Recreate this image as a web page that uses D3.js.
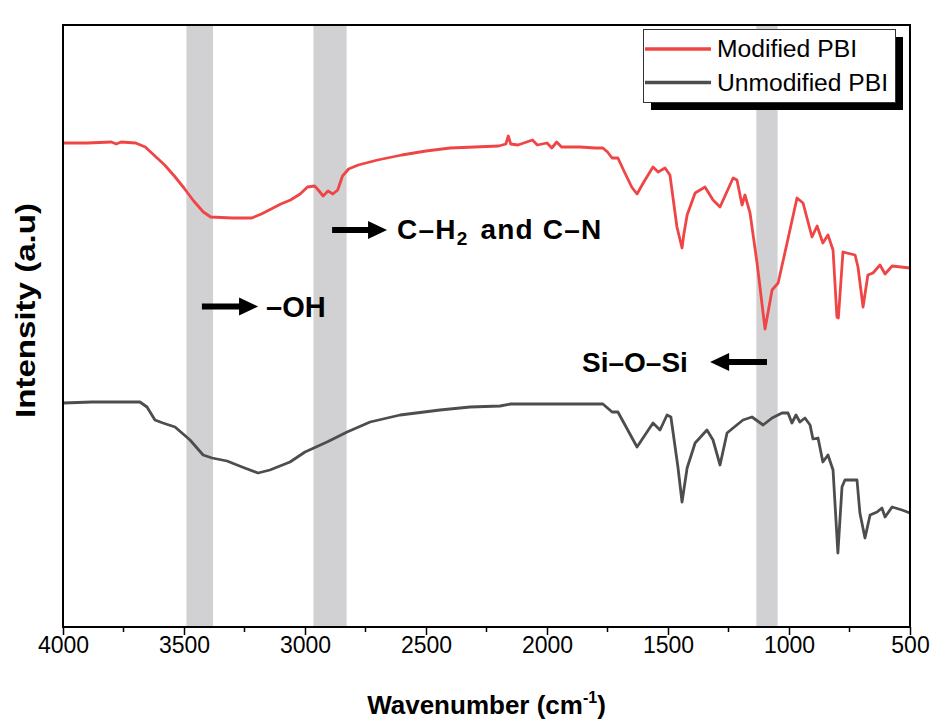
<!DOCTYPE html>
<html><head><meta charset="utf-8">
<script src="https://cdn.jsdelivr.net/npm/d3@7"></script>
<style>body{margin:0;background:#fff}svg{display:block;font-family:"Liberation Sans",Arial,sans-serif}</style>
</head><body>
<svg id="c" width="934" height="724"></svg>
<script>
// Data (wavenumber cm^-1, intensity a.u.)
const modifiedWN = [4000,3900,3800,3780,3760,3700,3660,3620,3580,3540,3500,3460,3420,3390,3300,3220,3180,3140,3100,3060,3020,2990,2960,2945,2925,2905,2885,2865,2845,2820,2780,2700,2600,2500,2400,2300,2200,2170,2160,2150,2120,2060,2040,2000,1980,1960,1940,1900,1864,1800,1769,1750,1731,1707,1680,1650,1628,1600,1562,1541,1512,1492,1463,1450,1442,1435,1421,1388,1347,1314,1285,1231,1215,1194,1182,1161,1132,1099,1070,1045,1008,967,942,905,884,860,839,818,802,796,777,727,715,694,674,653,624,603,574,500];
const modifiedI  = [242,242,242.5,241.5,242.5,242,240,235.5,231,225.5,219.5,213,207.5,205,204.5,204.5,206.5,209,211.5,213.5,216.5,220,220.5,218.5,215.5,218,216.5,218.5,225.5,229,231,233.5,236,238,239.5,240,240.5,241.5,245.5,241.5,241,243.5,241,242,239.5,242.5,240,240,240,239.5,239.5,237.5,234.5,234.5,227.5,220,216.5,222.5,230,227.5,229.5,226,200,193.5,189.5,196,206,217,220,213.5,210,224.5,223.5,211,216,207,182,149,168.5,172,192,214.5,212,195,200.5,192,196,188.5,155,154.5,187.5,186,180,160,176,177,181,176.5,180.5,179.5];
const unmodWN = [4000,3880,3682,3653,3620,3587,3537,3475,3421,3384,3322,3260,3194,3145,3062,3000,2909,2826,2731,2607,2442,2318,2194,2150,1988,1864,1769,1731,1707,1628,1562,1533,1504,1488,1459,1442,1421,1388,1339,1314,1285,1256,1231,1190,1153,1107,1070,1029,1004,988,971,955,934,913,901,880,860,839,818,798,781,769,719,707,686,665,636,616,603,574,533,500];
const unmodI  = [112,112.5,112.5,110,103.5,102,100,93.5,86,84.5,83,80,77,78.5,82.5,87.5,92.5,97.5,102.5,106,108.5,110,110.5,111.5,111.5,111.5,111.5,107.5,107.5,90,102,98.5,106,105,80,62.5,79.5,92,98.5,93.5,81,97,99.5,103.5,105,101,104.5,107,107,102,106,102.5,104.5,101,94,94.5,82.5,86,78.5,37,70,73.5,73.5,57,44.5,56,57.5,59.5,55,60,58.5,57];
const bands = [[3490,3380],[2965,2828],[1135,1047]];
const seriesNames = ["Modified PBI","Unmodified PBI"];
const xTicks = [4000,3500,3000,2500,2000,1500,1000,500];

const svg = d3.select("#c");
const L=63,R=910,T=25,B=627;
const x = d3.scaleLinear().domain([4000,500]).range([L,R]);
const y = d3.scaleLinear().domain([0,301]).range([B,T]);
const colors = ["#f04545","#4d4d4d"];

// bands
svg.selectAll("rect.band").data(bands).enter().append("rect")
  .attr("x",d=>x(d[0])).attr("width",d=>x(d[1])-x(d[0]))
  .attr("y",T).attr("height",B-T).attr("fill","#d1d0d2");

const line = d3.line().x(d=>x(d[0])).y(d=>y(d[1]));
const series = [d3.zip(modifiedWN,modifiedI), d3.zip(unmodWN,unmodI)];
svg.selectAll("path.s").data(series).enter().append("path")
  .attr("d",line).attr("fill","none").attr("stroke",(d,i)=>colors[i])
  .attr("stroke-width",2.8).attr("stroke-linejoin","round");

// frame
svg.append("rect").attr("x",L).attr("y",T).attr("width",R-L).attr("height",B-T)
  .attr("fill","none").attr("stroke","#000").attr("stroke-width",2);

// x axis
const ax = svg.append("g").attr("transform",`translate(0,${B})`)
  .call(d3.axisBottom(x).tickValues(xTicks).tickFormat(d3.format("d")).tickSize(8).tickPadding(2));
ax.select(".domain").remove();
ax.selectAll("line").attr("stroke","#000").attr("stroke-width",1.5);
ax.selectAll("text").attr("font-size",23).attr("fill","#000");
svg.append("g").attr("transform",`translate(0,${B})`)
  .selectAll("line").data(d3.range(3750,500,-500)).enter().append("line")
  .attr("x1",d=>x(d)).attr("x2",d=>x(d)).attr("y1",0).attr("y2",5)
  .attr("stroke","#000").attr("stroke-width",1.5);

// axis titles
const xt = svg.append("text").attr("x",(L+R)/2).attr("y",714).attr("text-anchor","middle")
  .attr("font-size",26).attr("font-weight","bold");
xt.append("tspan").text("Wavenumber (cm");
xt.append("tspan").text("-1").attr("font-size",16).attr("dy",-11);
xt.append("tspan").text(")").attr("dy",11);
svg.append("text").attr("transform","translate(35,310.5) rotate(-90)").attr("text-anchor","middle")
  .attr("font-size",27).attr("font-weight","bold")
  .attr("textLength",215).attr("lengthAdjust","spacingAndGlyphs").text("Intensity (a.u)");

// arrows + labels
function arrow(x1,x2,yy){
  const dir = Math.sign(x2-x1);
  svg.append("line").attr("x1",x1).attr("x2",x2-dir*14).attr("y1",yy).attr("y2",yy)
    .attr("stroke","#000").attr("stroke-width",6);
  svg.append("path").attr("d",`M${x2},${yy} L${x2-dir*19},${yy-9} L${x2-dir*19},${yy+9} Z`).attr("fill","#000");
}
arrow(x(3426),x(3194),306.5);
svg.append("text").attr("x",266).attr("y",317).attr("font-size",29).attr("font-weight","bold").text("\u2013OH");
arrow(x(2888),x(2661),230);
const ch = svg.append("text").attr("x",397).attr("y",238.5).attr("font-size",28).attr("font-weight","bold")
  .attr("letter-spacing",1.2);
ch.append("tspan").text("C\u2013H");
ch.append("tspan").text("2").attr("font-size",19).attr("dy",6);
ch.append("tspan").text("\u00a0and C\u2013N").attr("dy",-6).attr("dx",3);
arrow(x(1091),x(1326),362);
svg.append("text").attr("x",582).attr("y",372).attr("font-size",28).attr("font-weight","bold").text("Si\u2013O\u2013Si");

// legend
const lg = svg.append("g");
lg.append("rect").attr("x",651).attr("y",37).attr("width",252).attr("height",73).attr("fill","#000");
lg.append("rect").attr("x",643.5).attr("y",29.5).attr("width",252).attr("height",73).attr("fill","#fff").attr("stroke","#333").attr("stroke-width",1);
const legLen = [140,171];
seriesNames.forEach((n,i)=>{
  const yy = 49 + i*33.5;
  lg.append("line").attr("x1",645).attr("x2",711).attr("y1",yy).attr("y2",yy).attr("stroke",colors[i]).attr("stroke-width",3.5);
  lg.append("text").attr("x",717).attr("y",yy+8).attr("font-size",23)
    .attr("textLength",legLen[i]).attr("lengthAdjust","spacingAndGlyphs").text(n);
});
</script>
</body></html>
